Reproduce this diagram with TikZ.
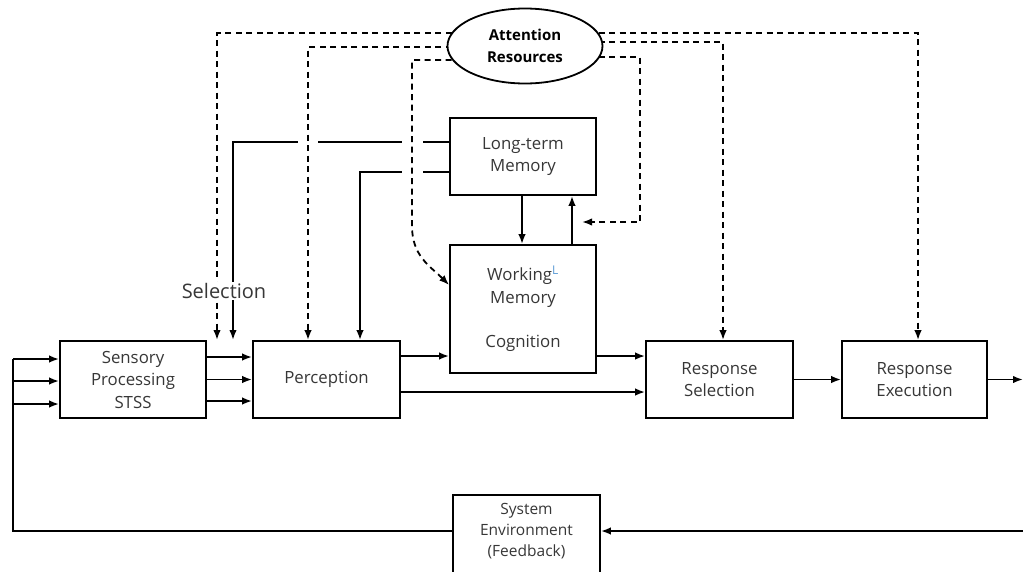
\documentclass[tikz,border=0pt]{standalone}
\usepackage{fontspec}
\setmainfont{Open Sans}
\usetikzlibrary{arrows.meta,backgrounds,shapes.geometric}
\definecolor{lblue}{RGB}{91,155,213}
\definecolor{labelgray}{RGB}{55,55,55}

\begin{document}
\begin{tikzpicture}[x=1pt,y=-1pt,
  lbl/.style={align=center,text=labelgray,font=\fontsize{16.8}{22.5}\selectfont},
  box/.style={lbl,draw,line width=1.8pt,fill=white,minimum width=146pt,
    minimum height=77pt,inner sep=0pt},
  link/.style={line width=1.8pt},
  arr/.style={link,-{Latex[length=10pt,width=7.5pt]}},
  dashline/.style={line width=1.8pt,dash pattern=on 6pt off 4.5pt},
  dasharr/.style={dashline,-{Latex[length=10pt,width=7.5pt]}},
]
\useasboundingbox (0,0) rectangle (1023,571);
\clip (0,0) rectangle (1023,571);

% processing stages
\node[box] (sens) at (133,379.5) {Sensory\\Processing\\STSS};
\node[box,minimum width=147pt] (perc) at (326.5,379.5) {Perception};
\node[box,minimum width=147pt] (rsel) at (719.5,379.5) {Response\\Selection};
\node[box,minimum width=145pt] (rexe) at (914.5,379.5) {Response\\Execution};
\node[box] (ltm) at (523,156.5) {Long-term\\Memory};
\node[box,minimum height=128pt] (wm) at (523,309)
  {Working\textsuperscript{\textcolor{lblue}{\fontsize{12}{12}\selectfont L}}\\Memory\\[22pt]Cognition};
\node[box,minimum width=147pt,minimum height=84pt] (sysenv) at (526.5,537) {};
\node[lbl,font=\fontsize{15.5}{21}\selectfont] (sysenvtext) at (526.5,531)
  {System\\Environment\\(Feedback)};

% attention pool
\node[ellipse,draw,line width=1.8pt,fill=white,minimum width=155pt,
  minimum height=75pt,inner sep=0pt,align=center,
  font=\fontsize{15}{21.5}\selectfont\bfseries] (att) at (525,46)
  {Attention\\Resources};

% selection label sits over the two arrows
\node[fill=white,inner sep=1pt,text=labelgray,font=\fontsize{20}{22}\selectfont]
  (sel) at (224,291) {Selection};

\begin{pgfonlayer}{background}
  % long-term memory feeds back to selection and perception
  \draw[arr] ([yshift=14.5pt]ltm.west) -| (233,340);
  \draw[arr] ([yshift=-15.5pt]ltm.west) -| ([xshift=33.5pt]perc.north);

  % gaps where the dashed lines pass over them
  \begin{scope}
    \clip (0,128) rectangle (1023,186);
    \draw[white,line width=20pt] (308,0) -- (308,300);
    \draw[white,line width=21pt] (412,0) -- (412,230);
  \end{scope}

  % attention allocation
  \draw[dasharr] ([yshift=13pt]att.center) -| (217,340);
  \draw[dasharr] ([yshift=-1pt]att.center) -| ([xshift=-18.5pt]perc.north);
  \draw[dasharr] ([yshift=-14pt]att.center) -| (412,226)
    .. controls (412,256) and (430,266) .. ([yshift=24pt]wm.west);
  \draw[dasharr] ([yshift=13pt]att.center) -| ([xshift=3.5pt]rexe.north);
  \draw[dasharr] ([yshift=4pt]att.center) -| ([xshift=3.5pt]rsel.north);
  \draw[dasharr] ([yshift=-11pt]att.center) -| (640,222) -- (582,222);

  % memory exchange
  \draw[arr] ([xshift=-1pt]ltm.south) -- ([xshift=-1pt]wm.north);
  \draw[arr] ([xshift=49pt]wm.north) -- ([xshift=49pt]ltm.south);

  % main flow
  \foreach \d in {22.5,0,-21.5}
    \draw[arr] ([yshift=\d pt]sens.east) -- ([yshift=\d pt]perc.west);
  \coordinate (p1) at ([yshift=23.5pt]perc.east);
  \draw[arr] (p1) -- (p1 -| wm.west);
  \coordinate (w1) at (wm.east |- p1);
  \draw[arr] (w1) -- (w1 -| rsel.west);
  \coordinate (p2) at ([yshift=-12.5pt]perc.east);
  \draw[arr] (p2) -- (p2 -| rsel.west);
  \draw[arr] (rsel.east) -- (rexe.west);
  \coordinate (out) at (1023,379.5);
  \draw[arr] (rexe.east) -- (out);

  % feedback loop
  \coordinate (fbR) at (1023,531);
  \coordinate (fbL) at (13,531);
  \draw[arr] (fbR) -- (fbR -| sysenv.east);
  \foreach \d [count=\i] in {20.5,-1.5,-24.5} {
    \coordinate (s\i) at ([yshift=\d pt]sens.west);
    \draw[arr] (s\i -| fbL) -- (s\i);
  }
  \draw[link] (fbR -| sysenv.west) -- (fbL) -- (fbL |- s1);
\end{pgfonlayer}
\end{tikzpicture}
\end{document}
